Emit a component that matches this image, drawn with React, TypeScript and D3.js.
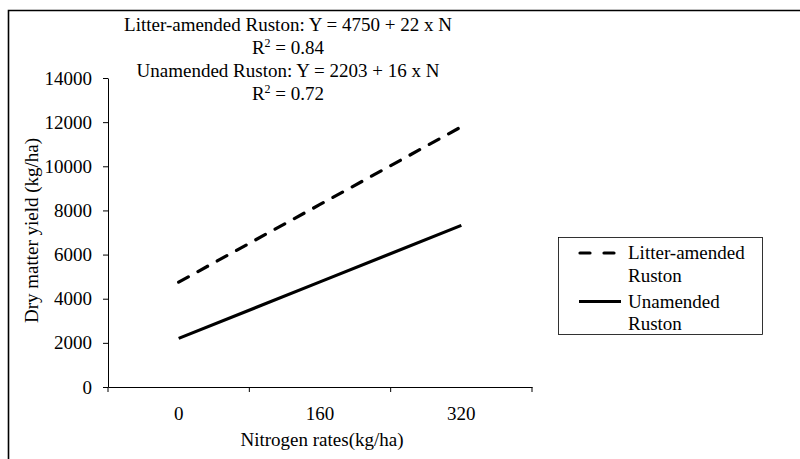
import { useEffect, useRef } from "react";
import * as d3 from "d3";

const nitrogenRates = ["0", "160", "320"];
const litterAmended = [4750, 8270, 11790];
const unamended = [2203, 4763, 7323];
const yTicks = [0, 2000, 4000, 6000, 8000, 10000, 12000, 14000];
const seriesNames = [
  ["Litter-amended", "Ruston"],
  ["Unamended", "Ruston"],
];
const equations = [
  { text: "Litter-amended Ruston: Y = 4750 + 22 x N", r2: null },
  { text: "R", r2: " = 0.84" },
  { text: "Unamended Ruston: Y = 2203 + 16 x N", r2: null },
  { text: "R", r2: " = 0.72" },
];

export default function App() {
  const ref = useRef<SVGSVGElement | null>(null);

  useEffect(() => {
    const width = 800;
    const height = 459;
    const margin = { top: 78, right: 268, bottom: 72, left: 108 };
    const font = "Liberation Serif, Tinos, DejaVu Serif, serif";
    const fs = 19;

    const svg = d3.select(ref.current);
    svg.selectAll("*").remove();
    svg.attr("viewBox", `0 0 ${width} ${height}`).style("font-family", font);

    svg.append("rect").attr("width", width).attr("height", height).attr("fill", "#fff");

    // outer frame (cut off on right/bottom)
    svg
      .append("path")
      .attr("d", `M8.5,${height + 5}V10.5H${width + 5}`)
      .attr("fill", "none")
      .attr("stroke", "#000")
      .attr("stroke-width", 1.6);

    const x = d3
      .scaleBand()
      .domain(nitrogenRates)
      .range([margin.left, width - margin.right]);
    const y = d3
      .scaleLinear()
      .domain([0, 14000])
      .range([height - margin.bottom, margin.top]);

    const xAxis = svg
      .append("g")
      .attr("transform", `translate(0,${y(0)})`)
      .call(d3.axisBottom(x).tickSize(0).tickPadding(20));
    xAxis.attr("font-family", null);
    xAxis.select(".domain").attr("stroke", "#000");
    xAxis.selectAll("text").attr("fill", "#000").style("font-family", font).attr("font-size", fs);
    // category boundary ticks
    const bounds = nitrogenRates.map((d) => x(d) as number).concat([x.range()[1]]);
    xAxis
      .selectAll("line.bound")
      .data(bounds)
      .join("line")
      .attr("class", "bound")
      .attr("x1", (d) => d)
      .attr("x2", (d) => d)
      .attr("y1", 0)
      .attr("y2", 5)
      .attr("stroke", "#000");

    const yAxis = svg
      .append("g")
      .attr("transform", `translate(${margin.left},0)`)
      .call(
        d3
          .axisLeft(y)
          .tickValues(yTicks)
          .tickSize(5)
          .tickSizeOuter(0)
          .tickPadding(11)
          .tickFormat(d3.format("d")),
      );
    yAxis.attr("font-family", null);
    yAxis.selectAll("path,line").attr("stroke", "#000");
    yAxis.selectAll("text").attr("fill", "#000").style("font-family", font).attr("font-size", fs);

    const cx = (d: string) => (x(d) as number) + x.bandwidth() / 2;
    const line = d3
      .line<number>()
      .x((_, i) => cx(nitrogenRates[i]))
      .y((d) => y(d));

    svg
      .append("path")
      .datum(litterAmended)
      .attr("d", line)
      .attr("fill", "none")
      .attr("stroke", "#000")
      .attr("stroke-width", 3.2)
      .attr("stroke-linecap", "round")
      .attr("stroke-dasharray", "11,11");

    svg
      .append("path")
      .datum(unamended)
      .attr("d", line)
      .attr("fill", "none")
      .attr("stroke", "#000")
      .attr("stroke-width", 3.2);

    // axis titles
    svg
      .append("text")
      .attr("x", 322)
      .attr("y", 446)
      .attr("text-anchor", "middle")
      .attr("font-size", fs)
      .text("Nitrogen rates(kg/ha)");

    svg
      .append("text")
      .attr("transform", `translate(38,${y(7000) - 2}) rotate(-90)`)
      .attr("text-anchor", "middle")
      .attr("font-size", fs)
      .text("Dry matter yield (kg/ha)");

    // regression equations
    const eq = svg.append("g").attr("font-size", fs).attr("text-anchor", "middle");
    equations.forEach((l, i) => {
      const t = eq
        .append("text")
        .attr("x", 288)
        .attr("y", 31 + i * 23);
      if (l.r2) {
        t.append("tspan").text(l.text);
        t.append("tspan").attr("font-size", 12).attr("dy", -7).text("2");
        t.append("tspan").attr("dy", 7).text(l.r2);
      } else {
        t.text(l.text);
      }
    });

    // legend
    const lg = svg.append("g");
    lg.append("rect")
      .attr("x", 558.5)
      .attr("y", 237.5)
      .attr("width", 204)
      .attr("height", 97)
      .attr("fill", "#fff")
      .attr("stroke", "#000")
      .attr("stroke-width", 0.8);
    seriesNames.forEach((names, i) => {
      const yy = 253 + i * 48.5;
      lg.append("line")
        .attr("x1", i === 0 ? 580 : 579)
        .attr("x2", i === 0 ? 616 : 621)
        .attr("y1", yy)
        .attr("y2", yy)
        .attr("stroke", "#000")
        .attr("stroke-width", 3.2)
        .attr("stroke-linecap", i === 0 ? "round" : "butt")
        .attr("stroke-dasharray", i === 0 ? "10,14" : null);
      names.forEach((n, j) => {
        lg.append("text")
          .attr("x", 628)
          .attr("y", yy + 6.3 + j * 22.5)
          .attr("font-size", fs)
          .text(n);
      });
    });
  }, []);

  return (
    <svg
      ref={ref}
      width={800}
      height={459}
      style={{ position: "absolute", left: 0, top: 0, display: "block" }}
    />
  );
}
